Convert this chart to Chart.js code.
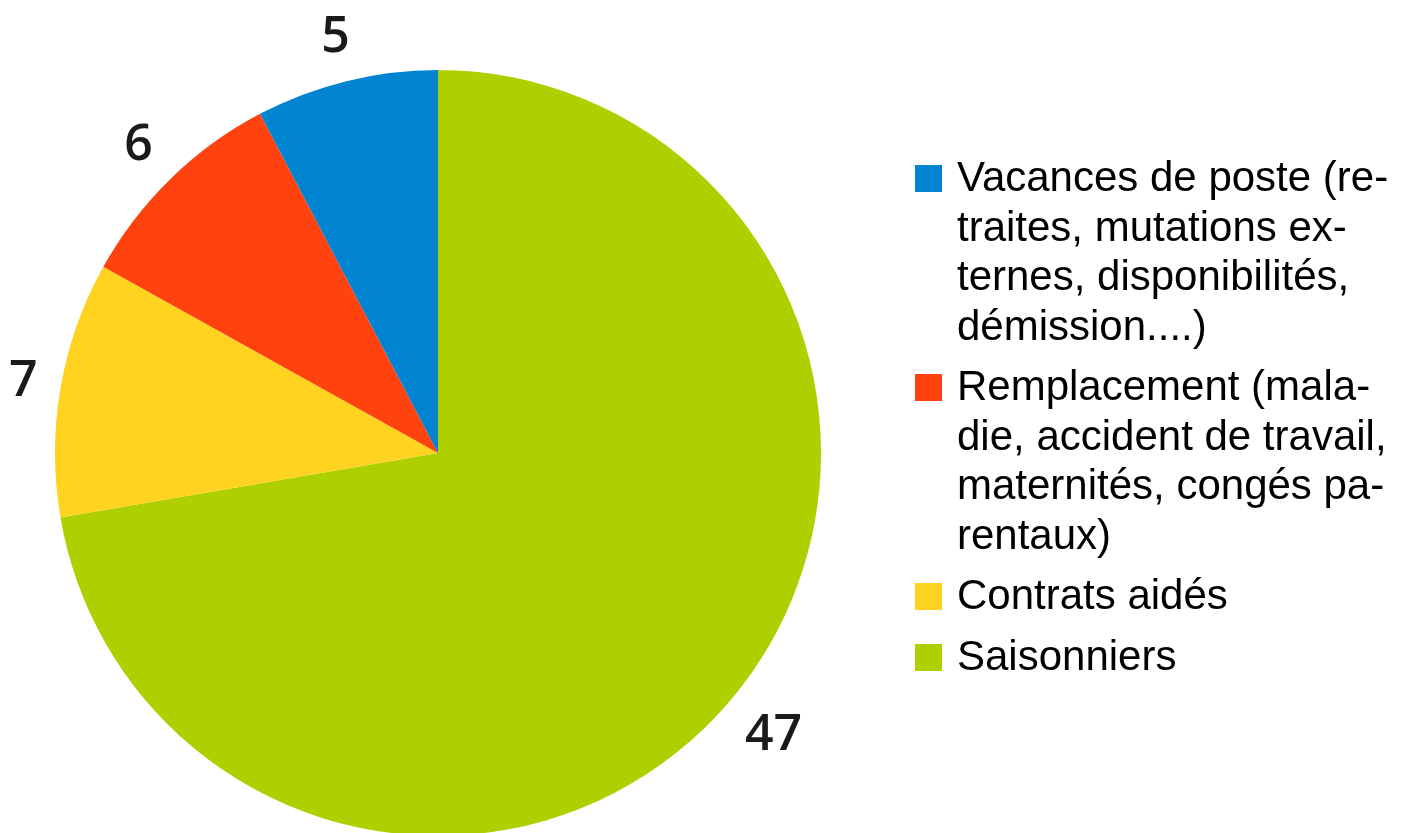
<!DOCTYPE html>
<html lang="fr">
<head>
<meta charset="utf-8">
<title>Répartition des recrutements</title>
<script src="https://cdn.jsdelivr.net/npm/chart.js@4.4.1/dist/chart.umd.min.js"></script>
<style>
  html, body { margin: 0; padding: 0; background: #fff; overflow: hidden; }
  #wrap { position: relative; width: 1402px; height: 833px; overflow: hidden; }
  #pieChart { position: absolute; left: 0; top: 0; }
  #legend {
    position: absolute; left: 915px; top: 152px;
    font-family: "Liberation Sans", Arial, sans-serif;
    font-size: 42px; line-height: 49.5px; color: #000;
  }
  .item { position: relative; padding-left: 42px; margin-bottom: 11px; white-space: nowrap; }
  .swatch { position: absolute; left: 0; top: 13px; width: 27px; height: 27px; }
</style>
</head>
<body>
<div id="wrap">
  <canvas id="pieChart" width="1402" height="836"></canvas>
  <div id="legend"></div>
</div>
<script>
document.addEventListener("DOMContentLoaded", function () {
    // legend order (top to bottom)
    const categories = [
        ['Vacances de poste (re-', 'traites, mutations ex-', 'ternes, disponibilités,', 'démission....)'],
        ['Remplacement (mala-', 'die, accident de travail,', 'maternités, congés pa-', 'rentaux)'],
        ['Contrats aidés'],
        ['Saisonniers']
    ];
    const values = [5, 6, 7, 47];
    const colors = ['#0084d1', '#ff420e', '#ffd320', '#aecf00'];

    // the pie runs clockwise from the top starting with the last category
    const pieLabels = categories.map(c => c.join(' ')).reverse();
    const pieValues = values.slice().reverse();
    const pieColors = colors.slice().reverse();

    const outsideLabels = {
        id: 'outsideLabels',
        afterDatasetsDraw(chart) {
            const ctx = chart.ctx;
            const meta = chart.getDatasetMeta(0);
            ctx.save();
            ctx.font = '600 50px "Open Sans", "DejaVu Sans", sans-serif';
            ctx.fillStyle = '#1a1a1a';
            ctx.textAlign = 'center';
            ctx.textBaseline = 'middle';
            meta.data.forEach((arc, i) => {
                const p = arc.getProps(['x', 'y', 'startAngle', 'endAngle', 'outerRadius'], true);
                const mid = (p.startAngle + p.endAngle) / 2;
                const txt = String(pieValues[i]);
                const hw = ctx.measureText(txt).width / 2;
                const hh = 22;
                const cx = Math.cos(mid), cy = Math.sin(mid);
                const r = p.outerRadius + 20 + Math.abs(cx) * hw + Math.abs(cy) * hh;
                ctx.fillText(txt, p.x + cx * r, p.y + cy * r);
            });
            ctx.restore();
        }
    };

    new Chart(document.getElementById('pieChart').getContext('2d'), {
        type: 'pie',
        data: {
            labels: pieLabels,
            datasets: [{
                data: pieValues,
                backgroundColor: pieColors,
                borderWidth: 0
            }]
        },
        options: {
            responsive: false,
            animation: false,
            layout: { padding: { top: 70, left: 55, right: 581, bottom: 0 } },
            plugins: {
                legend: { display: false },
                tooltip: { enabled: false }
            }
        },
        plugins: [outsideLabels]
    });

    const legend = document.getElementById('legend');
    categories.forEach((lines, i) => {
        const item = document.createElement('div');
        item.className = 'item';
        const sw = document.createElement('span');
        sw.className = 'swatch';
        sw.style.background = colors[i];
        item.appendChild(sw);
        lines.forEach((line, j) => {
            if (j > 0) item.appendChild(document.createElement('br'));
            item.appendChild(document.createTextNode(line));
        });
        legend.appendChild(item);
    });
});
</script>
</body>
</html>
